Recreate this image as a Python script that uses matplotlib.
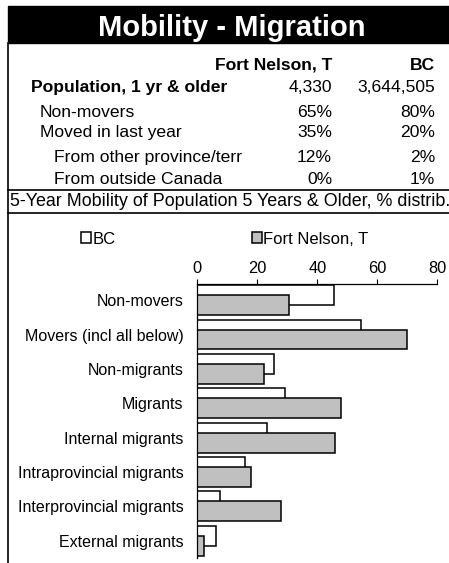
import matplotlib
matplotlib.use("Agg")
import matplotlib.pyplot as plt
from matplotlib.patches import Rectangle

plt.rcParams['font.family'] = ['Liberation Sans', 'DejaVu Sans']

# table data
col_heads = ['Fort Nelson, T', 'BC']
row_labels = ['Population, 1 yr & older', 'Non-movers', 'Moved in last year',
              'From other province/terr', 'From outside Canada']
fn_vals = ['4,330', '65%', '35%', '12%', '0%']
bc_vals = ['3,644,505', '80%', '20%', '2%', '1%']

# bar chart data (% distribution)
categories = ['Non-movers', 'Movers (incl all below)', 'Non-migrants', 'Migrants',
              'Internal migrants', 'Intraprovincial migrants',
              'Interprovincial migrants', 'External migrants']
bc_pct = [45.5, 54.6, 25.6, 29.3, 23.2, 15.8, 7.4, 6.3]
fn_pct = [30.5, 69.8, 22.1, 47.8, 45.8, 18.0, 27.9, 2.1]

W, H = 449, 563
fig = plt.figure(figsize=(W / 100, H / 100), dpi=100)

# background layer in pixel coords
bg = fig.add_axes([0, 0, 1, 1])
bg.set_xlim(0, W)
bg.set_ylim(H, 0)
bg.axis('off')

bg.add_patch(Rectangle((8, 6), W - 8, 37, color='black'))
bg.text(232, 36, 'Mobility - Migration', color='white', fontsize=21,
        fontweight='bold', ha='center', va='baseline')
bg.plot([8, 8], [43, H], color='black', lw=1.2)
bg.plot([8, W], [190, 190], color='black', lw=1.2)
bg.plot([8, W], [213, 213], color='black', lw=1.2)

# table
fs = 12.6
bg.text(332, 70, col_heads[0], fontsize=fs, fontweight='bold', ha='right', va='baseline')
bg.text(435, 70, col_heads[1], fontsize=fs, fontweight='bold', ha='right', va='baseline')
baselines = [92.3, 117.3, 137.3, 161.7, 184.3]
lefts = [31, 40, 40, 54, 54]
for i in range(len(row_labels)):
    wt = 'bold' if i == 0 else 'normal'
    bg.text(lefts[i], baselines[i], row_labels[i], fontsize=fs, fontweight=wt,
            ha='left', va='baseline')
    bg.text(332, baselines[i], fn_vals[i], fontsize=fs, ha='right', va='baseline')
    bg.text(435, baselines[i], bc_vals[i], fontsize=fs, ha='right', va='baseline')

bg.text(10, 206.5, '5-Year Mobility of Population 5 Years & Older, % distrib.',
        fontsize=12.9, ha='left', va='baseline')

# bar chart
cfs = 11.5
ax = fig.add_axes([197.3 / W, (H - 558) / H, 240 / W, 274 / H])
ypos = list(range(len(categories)))
off = 0.145
hb = ax.barh([y - off for y in ypos], bc_pct, height=0.58, color='white',
             edgecolor='black', linewidth=1.1, label='BC')
hf = ax.barh([y + off for y in ypos], fn_pct, height=0.58, color='#c0c0c0',
             edgecolor='black', linewidth=1.1, label='Fort Nelson, T')
ax.set_xlim(0, 80)
ax.set_ylim(7.5, -0.47)
ax.set_xticks([0, 20, 40, 60, 80])
ax.set_yticks(ypos)
ax.set_yticklabels(categories, fontsize=cfs)
ax.xaxis.tick_top()
ax.tick_params(axis='x', direction='out', length=3.6, width=0.8, pad=2.4, labelsize=11.8)
ax.tick_params(axis='y', length=0, pad=10)
for s in ['right', 'bottom']:
    ax.spines[s].set_visible(False)
for s in ['top', 'left']:
    ax.spines[s].set_linewidth(0.9)

fig.legend(handles=[hb, hf], loc='center left', bbox_to_anchor=(81 / W, 1 - 239 / H),
           ncol=2, frameon=False, fontsize=12, borderpad=0, borderaxespad=0,
           handlelength=0.6, handleheight=0.6, handletextpad=0.1, columnspacing=8.15)

fig.savefig('out.png', dpi=100)
